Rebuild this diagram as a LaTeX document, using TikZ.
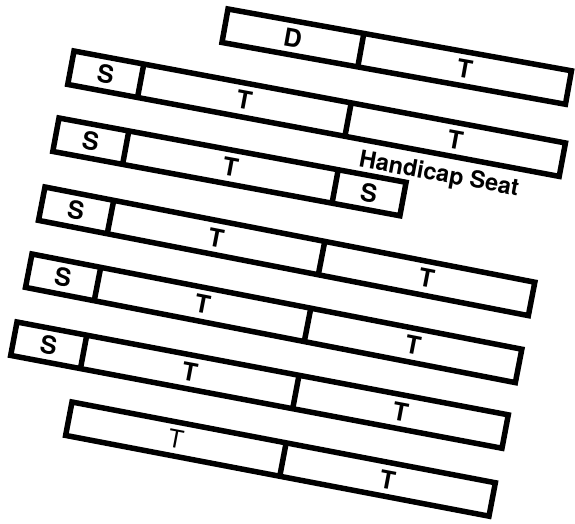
\documentclass[tikz,border=0pt]{standalone}
\usepackage{fontspec}
\newfontfamily\seatfont{TeX Gyre Heros}
\usepackage{tikz}
\tikzset{
  rowline/.style ={draw,line width=5.5pt},
  seatlbl/.style ={font=\seatfont\bfseries\fontsize{25}{25}\selectfont,inner sep=0pt},
  thinlbl/.style ={font=\seatfont\fontsize{25}{25}\selectfont,inner sep=0pt},
  notelbl/.style ={font=\seatfont\bfseries\fontsize{23.5}{23.5}\selectfont,inner sep=0pt},
}

\begin{document}
\begin{tikzpicture}[x=1pt,y=-1pt,transform shape]
  \useasboundingbox (0,0) rectangle (575,523);
  % row 1: driver
  \begin{scope}[shift={(228,9)},rotate=-10.2]
    \draw[rowline] (0,0) rectangle (349,34);
    \draw[rowline] (138,0) -- (138,34);
    \node[seatlbl] (d1) at (69,17)    {D};
    \node[seatlbl] (t1) at (243.5,17) {T};
  \end{scope}
  % row 2
  \begin{scope}[shift={(74,51)},rotate=-10.6]
    \draw[rowline] (0,0) rectangle (500,34);
    \draw[rowline] (71,0) -- (71,34);
    \draw[rowline] (282,0) -- (282,34);
    \node[seatlbl] (s2)  at (35.5,17)  {S};
    \node[seatlbl] (t2a) at (176.5,17) {T};
    \node[seatlbl] (t2b) at (391,17)   {T};
  \end{scope}
  % row 3: handicap seat on the right
  \begin{scope}[shift={(59,118)},rotate=-10.5]
    \draw[rowline] (0,0) rectangle (353,34);
    \draw[rowline] (71,0) -- (71,34);
    \draw[rowline] (284,0) -- (284,34);
    \node[seatlbl] (s3a) at (35.5,17)  {S};
    \node[seatlbl] (t3)  at (177.5,17) {T};
    \node[seatlbl] (s3b) at (318.5,17) {S};
    \node[notelbl] (hcap) at (384,-13) {Handicap Seat};
  \end{scope}
  % row 4
  \begin{scope}[shift={(45,187)},rotate=-11]
    \draw[rowline] (0,0) rectangle (499,34);
    \draw[rowline] (70,0) -- (70,34);
    \draw[rowline] (285,0) -- (285,34);
    \node[seatlbl] (s4)  at (35,17)    {S};
    \node[seatlbl] (t4a) at (177.5,17) {T};
    \node[seatlbl] (t4b) at (392,17)   {T};
  \end{scope}
  % row 5
  \begin{scope}[shift={(32,254)},rotate=-11]
    \draw[rowline] (0,0) rectangle (499,34);
    \draw[rowline] (70,0) -- (70,34);
    \draw[rowline] (284,0) -- (284,34);
    \node[seatlbl] (s5)  at (35,17)    {S};
    \node[seatlbl] (t5a) at (177,17)   {T};
    \node[seatlbl] (t5b) at (391.5,17) {T};
  \end{scope}
  % row 6
  \begin{scope}[shift={(17,322)},rotate=-10.7]
    \draw[rowline] (0,0) rectangle (500,34);
    \draw[rowline] (71,0) -- (71,34);
    \draw[rowline] (287,0) -- (287,34);
    \node[seatlbl] (s6)  at (35.5,17)  {S};
    \node[seatlbl] (t6a) at (179,17)   {T};
    \node[seatlbl] (t6b) at (393.5,17) {T};
  \end{scope}
  % row 7: back, no S
  \begin{scope}[shift={(72,402)},rotate=-10.8]
    \draw[rowline] (0,0) rectangle (431,34);
    \draw[rowline] (218,0) -- (218,34);
    \node[thinlbl] (t7a) at (109,17)   {T};
    \node[seatlbl] (t7b) at (324.5,17) {T};
  \end{scope}
\end{tikzpicture}
\end{document}
